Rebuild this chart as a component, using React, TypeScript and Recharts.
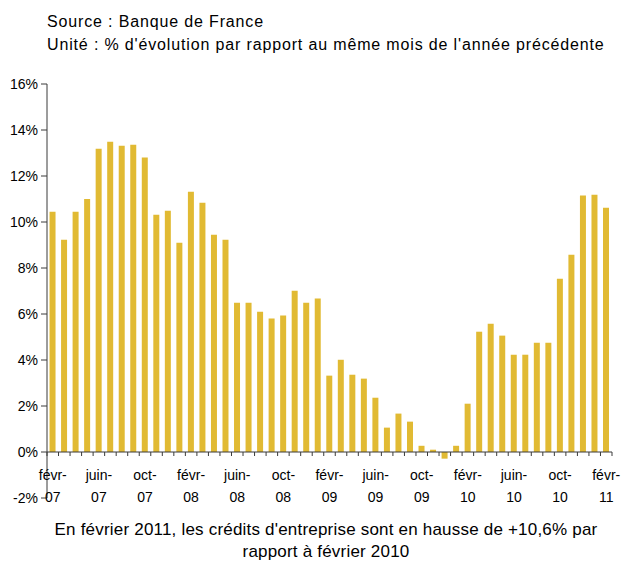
import { BarChart, Bar, XAxis, YAxis, ReferenceLine } from "recharts";

const months = [
  "févr-07", "mars-07", "avr-07", "mai-07", "juin-07", "juil-07", "août-07", "sept-07", "oct-07", "nov-07", "déc-07",
  "janv-08", "févr-08", "mars-08", "avr-08", "mai-08", "juin-08", "juil-08", "août-08", "sept-08", "oct-08", "nov-08", "déc-08",
  "janv-09", "févr-09", "mars-09", "avr-09", "mai-09", "juin-09", "juil-09", "août-09", "sept-09", "oct-09", "nov-09", "déc-09",
  "janv-10", "févr-10", "mars-10", "avr-10", "mai-10", "juin-10", "juil-10", "août-10", "sept-10", "oct-10", "nov-10", "déc-10",
  "janv-11", "févr-11",
];

const credits = [
  10.45, 9.23, 10.45, 11.0, 13.19, 13.49, 13.32, 13.36, 12.8, 10.32, 10.49,
  9.1, 11.32, 10.84, 9.45, 9.23, 6.49, 6.49, 6.1, 5.8, 5.93, 7.01, 6.49,
  6.67, 3.32, 4.01, 3.36, 3.19, 2.36, 1.06, 1.67, 1.32, 0.27, 0.1, -0.29,
  0.27, 2.1, 5.23, 5.58, 5.06, 4.23, 4.23, 4.75, 4.75, 7.53, 8.58, 11.15,
  11.19, 10.62,
];

const yTicks = [-2, 0, 2, 4, 6, 8, 10, 12, 14, 16];
const labelEvery = 4;

const data = months.map((m, i) => ({ month: m, value: credits[i] }));

const W = 623;
const H = 562;
const margin = { top: 84, right: 11, left: 0, bottom: 34 };
const yAxisWidth = 47;
const xAxisHeight = 30;
const plotW = W - margin.left - margin.right - yAxisWidth;
const plotH = H - margin.top - margin.bottom - xAxisHeight;
const yMin = yTicks[0];
const yMax = yTicks[yTicks.length - 1];
// distance from the plot bottom up to the 0% line
const zeroOffset = ((0 - yMin) / (yMax - yMin)) * plotH;
const step = plotW / months.length;

const font = "'Liberation Sans', Arial, sans-serif";
const axisColor = "#3a3a3a";

function MonthTick(props: any) {
  const { x, y, payload, index } = props;
  const y0 = y - zeroOffset;
  const [mon, yr] = String(payload.value).split("-");
  return (
    <g>
      <line x1={x - step / 2} x2={x - step / 2} y1={y0} y2={y0 + 4} stroke={axisColor} />
      {index === months.length - 1 && (
        <line x1={x + step / 2} x2={x + step / 2} y1={y0} y2={y0 + 4} stroke={axisColor} />
      )}
      {index % labelEvery === 0 && (
        <text x={x} y={y0 + 28} textAnchor="middle" fontSize={14} fill="#000" fontFamily={font}>
          <tspan x={x}>{mon}-</tspan>
          <tspan x={x} dy={22}>{yr}</tspan>
        </text>
      )}
    </g>
  );
}

export default function App() {
  return (
    <div style={{ position: "absolute", left: 0, top: 0, width: W, height: H, background: "#fff", fontFamily: font }}>
      <div
        style={{
          position: "absolute",
          left: 47,
          top: 10,
          fontSize: 16,
          letterSpacing: "0.85px",
          lineHeight: "23px",
          color: "#000",
          whiteSpace: "nowrap",
        }}
      >
        Source : Banque de France
        <br />
        Unité : % d'évolution par rapport au même mois de l'année précédente
      </div>
      <BarChart width={W} height={H} data={data} margin={margin} barCategoryGap="22%">
        <XAxis
          dataKey="month"
          height={xAxisHeight}
          axisLine={false}
          tickLine={false}
          tickSize={0}
          tickMargin={0}
          interval={0}
          tick={<MonthTick />}
        />
        <YAxis
          width={yAxisWidth}
          domain={[yMin, yMax]}
          ticks={yTicks}
          interval={0}
          tickFormatter={(v: number) => `${v}%`}
          axisLine={{ stroke: axisColor }}
          tickLine={{ stroke: axisColor }}
          tickSize={6}
          tickMargin={3}
          tick={{ fontSize: 14, fill: "#000", fontFamily: font }}
        />
        <Bar dataKey="value" fill="#E1BA33" isAnimationActive={false} />
        <ReferenceLine y={0} stroke={axisColor} />
      </BarChart>
      <div
        style={{
          position: "absolute",
          left: 0,
          width: 652,
          top: 519,
          fontSize: 17,
          letterSpacing: "0.2px",
          lineHeight: "22px",
          color: "#000",
          textAlign: "center",
          whiteSpace: "nowrap",
        }}
      >
        En février 2011, les crédits d'entreprise sont en hausse de +10,6% par
        <br />
        rapport à février 2010
      </div>
    </div>
  );
}
